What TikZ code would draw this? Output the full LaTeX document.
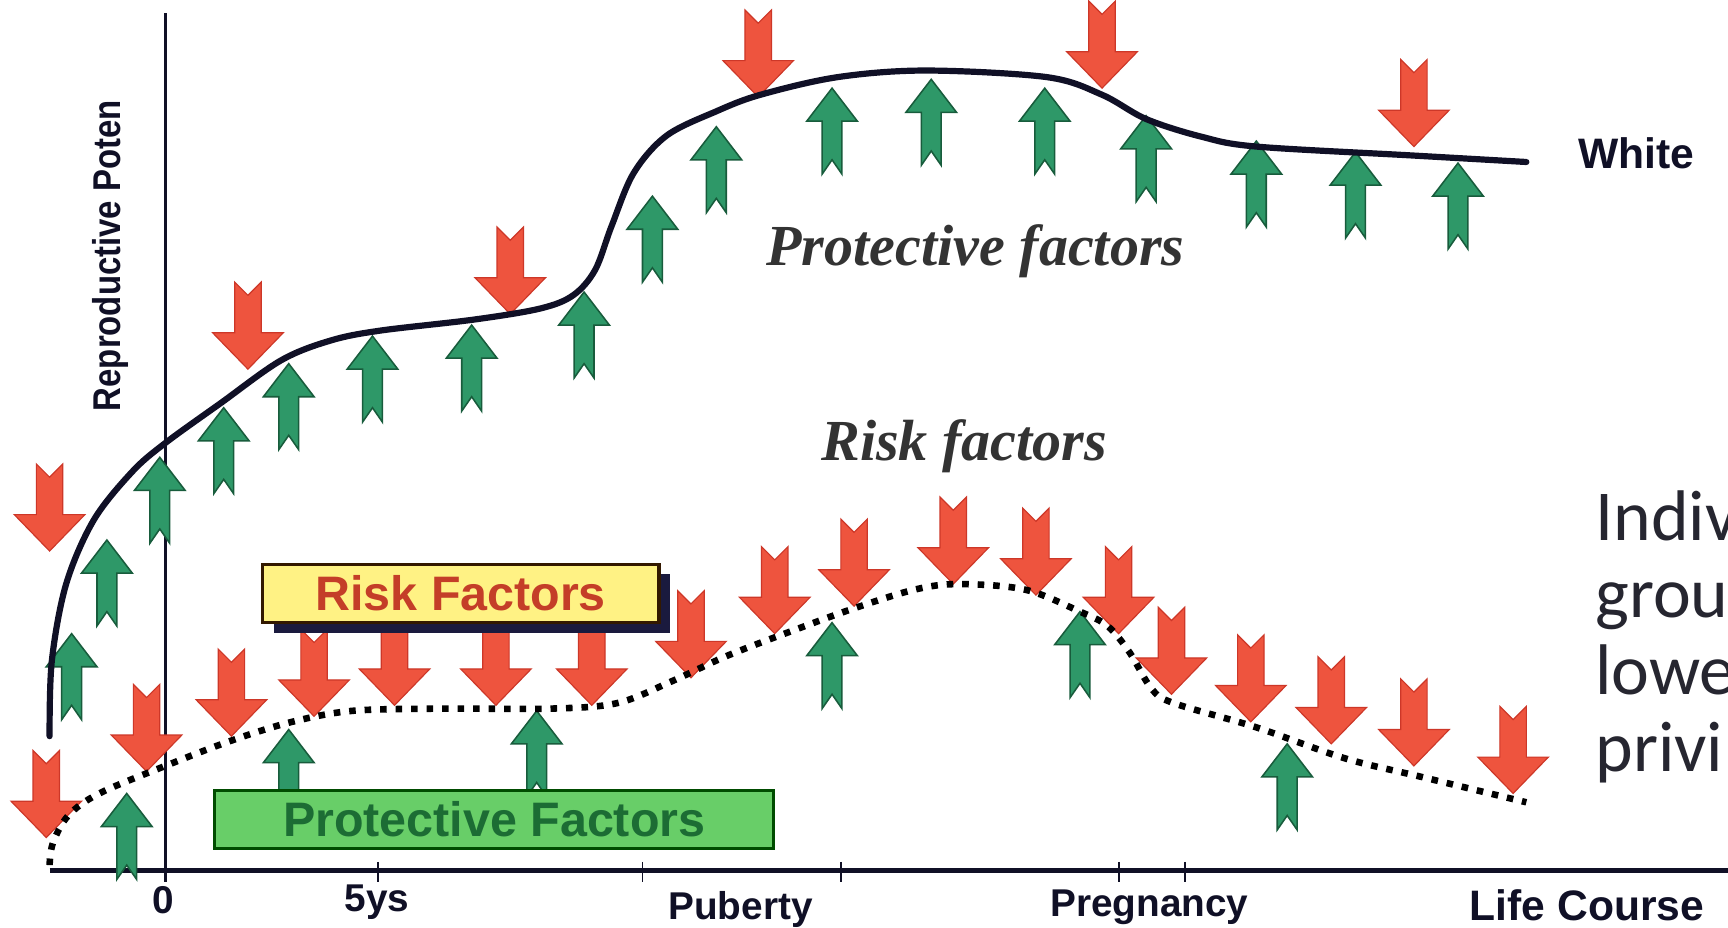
\documentclass[tikz,border=0pt]{standalone}
\usepackage{fontspec}
\setmainfont{Liberation Serif}
\setsansfont{Liberation Sans}
\newfontfamily\notefont{Carlito}
\usetikzlibrary{calc}
\definecolor{riskred}{RGB}{238,84,62}
\definecolor{riskedge}{RGB}{205,55,40}
\definecolor{protgreen}{RGB}{46,152,104}
\definecolor{protedge}{RGB}{24,92,60}
\definecolor{curvenavy}{RGB}{16,16,38}
\definecolor{keyyellow}{RGB}{255,242,132}
\definecolor{keygreen}{RGB}{104,206,104}
\definecolor{keytext}{RGB}{28,108,52}
\definecolor{keyred}{RGB}{196,62,40}
\definecolor{shadownavy}{RGB}{26,26,62}
\definecolor{notegray}{RGB}{38,38,48}
\tikzset{
  riskdown/.pic={\filldraw[fill=riskred,draw=riskedge,line width=.3pt] (0,0)--(-32,-33)--(-12,-33)--(-12,-79)--(0,-67)--(12,-79)--(12,-33)--(32,-33)--cycle;},
  protup/.pic={\filldraw[fill=protgreen,draw=protedge,line width=.4pt] (0,0)--(-23,30)--(-9,30)--(-9,78)--(0,65)--(9,78)--(9,30)--(23,30)--cycle;},
  axisline/.style={curvenavy,line width=.9pt},
  tick/.style={curvenavy,line width=.5pt},
  whitecurve/.style={curvenavy,line width=1.6pt,line cap=round},
  riskcurve/.style={black,line width=1.7pt,dash pattern=on 1.7pt off 2.3pt},
  axislabel/.style={font=\sffamily\bfseries\fontsize{10}{12}\selectfont,text=curvenavy,inner sep=0pt},
  phaselabel/.style={font=\rmfamily\bfseries\itshape\fontsize{15}{18}\selectfont,text=black!80,inner sep=0pt},
  riskkey/.style={draw=black!80!orange,line width=.8pt,fill=keyyellow,minimum width=36mm,minimum height=5.3mm,inner sep=0pt,font=\sffamily\bfseries\fontsize{12.5}{14}\selectfont,text=keyred},
  protkey/.style={draw=black!70!green,line width=.8pt,fill=keygreen,minimum width=50.7mm,minimum height=5.3mm,inner sep=0pt,font=\sffamily\bfseries\fontsize{12.5}{14}\selectfont,text=keytext},
  note/.style={font=\notefont\fontsize{18.5}{20}\selectfont,text=notegray,inner sep=0pt,anchor=base west}
}
\begin{document}
\begin{tikzpicture}[x=.1mm,y=-.1mm]
\useasboundingbox (0,0) rectangle (1568,842);
\fill[white] (0,0) rectangle (1568,842);
% axes
\draw[axisline] (150,12) -- (150,800);
\draw[axisline,line width=1.2pt] (45,790) -- (1568,790);
\foreach \x in {343,583,763,1015,1075} \draw[tick] (\x,782) -- (\x,800);
% factors acting on the upper curve
\foreach \x/\y in {45/500,225/335,463/285,688/88,1000/80,1283/133}
  \pic at (\x,\y) {riskdown};
\foreach \x/\y in {65/575,97/490,145/415,203/370,262/330,338/305,428/295,530/265,592/178,650/115,755/80,845/72,948/80,1040/105,1140/128,1230/138,1323/148}
  \pic at (\x,\y) {protup};
% factors acting on the lower curve
\foreach \x/\y in {42/760,133/700,210/668,285/650,358/640,450/640,537/640,627/615,703/575,775/550,865/530,940/540,1015/575,1063/630,1135/655,1208/675,1283/695,1373/720}
  \pic at (\x,\y) {riskdown};
\foreach \x/\y in {115/720,262/662,487/645,755/565,980/555,1168/675}
  \pic at (\x,\y) {protup};
% trajectories
\draw[whitecurve] plot[smooth,tension=.55] coordinates {(45,668) (47,600) (60,530) (85,472) (120,428) (150,402) (200,366) (255,327) (300,309) (345,300) (430,290) (490,280) (520,268) (540,245) (555,205) (575,157) (605,123) (650,101) (690,86) (760,70) (840,64) (950,70) (1000,86) (1040,108) (1090,124) (1140,133) (1280,141) (1385,147)};
\draw[riskcurve] plot[smooth,tension=.55] coordinates {(45,785) (48,765) (62,740) (90,720) (150,695) (210,672) (265,655) (320,645) (400,643) (500,643) (560,638) (610,618) (660,595) (720,572) (775,552) (830,535) (870,530) (930,535) (980,555) (1005,568) (1025,592) (1045,625) (1065,638) (1140,660) (1220,688) (1290,705) (1385,728)};
% keys
\fill[shadownavy] (249,521) rectangle (608,574);
\node[riskkey] (riskkey) at (418,538.5) {Risk Factors};
\node[protkey] (protkey) at (448.5,743.5) {Protective Factors};
% labels
\node[axislabel,rotate=90] (ylabel) at (100,232) {\scalebox{.85}[1]{Reproductive Poten}};
\node[axislabel] (zero) at (148,817) {0};
\node[axislabel] (fiveys) at (342,819) {5ys};
\node[axislabel] (puberty) at (672,825) {Puberty};
\node[axislabel] (pregnancy) at (1043,823) {Pregnancy};
\node[axislabel,font=\sffamily\bfseries\fontsize{11}{12}\selectfont] (lifecourse) at (1440,821) {Life Course};
\node[axislabel,font=\sffamily\bfseries\fontsize{11}{12}\selectfont] (white) at (1485,139) {White};
\node[phaselabel] (protlabel) at (885,228) {Protective factors};
\node[phaselabel] (risklabel) at (875,405) {Risk factors};
% note at the right edge
\node[note] (noteA) at (1447,490) {Indiv};
\node[note] (noteB) at (1447,560) {grou};
\node[note] (noteC) at (1447,630) {lowe};
\node[note] (noteD) at (1447,700) {privi};
\end{tikzpicture}
\end{document}
